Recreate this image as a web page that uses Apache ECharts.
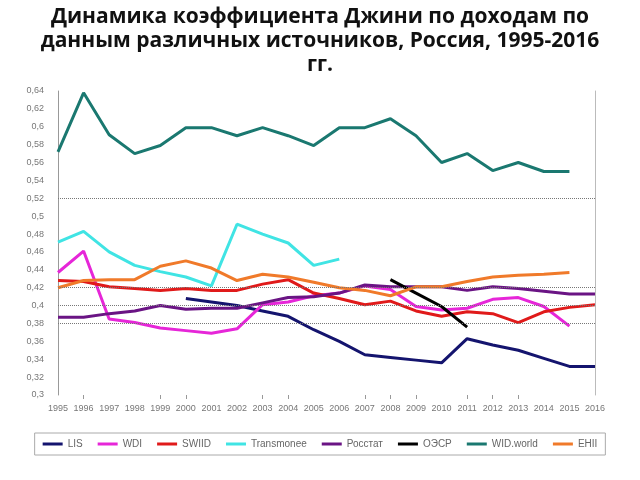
<!DOCTYPE html>
<html><head><meta charset="utf-8">
<script src="https://cdn.jsdelivr.net/npm/echarts@6/dist/echarts.min.js"></script>
<style>html,body{margin:0;padding:0;background:#fff}#c{width:640px;height:480px}</style>
</head><body><div id="c"></div>
<script>
const years = ['1995','1996','1997','1998','1999','2000','2001','2002','2003','2004','2005','2006','2007','2008','2009','2010','2011','2012','2013','2014','2015','2016'];
const LIS = [null,null,null,null,null,0.408,0.404,0.400,0.394,0.388,0.373,0.360,0.345,0.342,0.339,0.336,0.363,0.356,0.350,0.341,0.332,0.332];
const WDI = [0.437,0.461,0.385,0.381,0.375,0.372,0.369,0.374,0.401,0.404,0.411,0.414,0.422,0.418,0.399,0.395,0.397,0.407,0.409,0.399,0.377,null];
const SWIID = [0.428,0.427,0.421,0.419,0.417,0.419,0.417,0.417,0.424,0.429,0.414,0.408,0.401,0.405,0.394,0.388,0.393,0.391,0.381,0.393,0.398,0.401];
const Transmonee = [0.471,0.483,0.460,0.445,0.438,0.432,0.422,0.491,0.480,0.470,0.445,0.452,null,null,null,null,null,null,null,null,null,null];
const Rosstat = [0.387,0.387,0.391,0.394,0.400,0.396,0.397,0.397,0.403,0.409,0.410,0.414,0.423,0.421,0.421,0.421,0.417,0.421,0.419,0.416,0.413,0.413];
const OECD = [null,null,null,null,null,null,null,null,null,null,null,null,null,0.429,0.414,0.399,0.376,null,null,null,null,null];
const WID = [0.572,0.638,0.591,0.570,0.579,0.599,0.599,0.590,0.599,0.590,0.579,0.599,0.599,0.609,0.590,0.560,0.570,0.551,0.560,0.550,0.550,null];
const EHII = [0.420,0.428,0.429,0.429,0.444,0.450,0.442,0.428,0.435,0.432,0.426,0.420,0.417,0.411,0.421,0.421,0.427,0.432,0.434,0.435,0.437,null];
const gridValues = [0.52,0.42,0.40,0.38];
const tickYears = ['1996','1999','2000','2003','2004','2007','2008','2009','2011','2012','2013'];

const names = ['LIS','WDI','SWIID','Transmonee','Росстат','ОЭСР','WID.world','EHII'];
const datas = [LIS,WDI,SWIID,Transmonee,Rosstat,OECD,WID,EHII];
const colors = ['#14146e','#e626d8','#e01a1a','#40e4e4','#6a1484','#000000','#1a7870','#f07a2a'];

const narrow = "'Liberation Sans Narrow','Liberation Sans',Arial,sans-serif";
const series = names.map((n,i)=>({
  name:n, type:'line', data:datas[i], symbol:'none', connectNulls:false,
  lineStyle:{width:3,color:colors[i]}, itemStyle:{color:colors[i]}, z:3
}));
series[0].markLine = {silent:true, symbol:'none', label:{show:false},
  lineStyle:{type:'dotted',color:'#777',width:1},
  data: gridValues.map(v=>({yAxis:v}))};

const chart = echarts.init(document.getElementById('c'));
chart.setOption({
  animation:false,
  title:{text:'Динамика коэффициента Джини по доходам по\nданным различных источников, Россия, 1995-2016\nгг.',
    left:'center', top:0,
    textStyle:{fontFamily:"'Open Sans',sans-serif",fontWeight:'bold',fontSize:21,lineHeight:24,color:'#111'}},
  grid:{left:58,right:45,top:91,bottom:85},
  xAxis:{type:'category',data:years,boundaryGap:false,
    axisLine:{show:false},
    axisTick:{show:true,alignWithLabel:true,length:4,lineStyle:{color:'#999'},interval:(i,v)=>tickYears.includes(v)},
    axisLabel:{interval:0,color:'#777',fontSize:9,fontFamily:narrow,margin:9}},
  yAxis:[{type:'value',min:0.3,max:0.64,interval:0.02,
    axisLine:{show:true,lineStyle:{color:'#999',width:1}},
    axisTick:{show:false},splitLine:{show:false},
    axisLabel:{color:'#777',fontSize:9,fontFamily:narrow,margin:14,
      formatter:v=>String(Math.round(v*100)/100).replace('.',',')}},
    {type:'value',min:0.3,max:0.64,position:'right',
    axisLine:{show:true,lineStyle:{color:'#bbb',width:1}},
    axisTick:{show:false},splitLine:{show:false},axisLabel:{show:false}}],
  legend:{data:names,left:'center',top:433,itemWidth:20,itemHeight:3,icon:'rect',itemGap:15,
    borderColor:'#aaa',borderWidth:1,padding:[6,8],
    textStyle:{color:'#666',fontSize:10,fontFamily:"'Liberation Sans',Arial,sans-serif"}},
  series
});
</script></body></html>
